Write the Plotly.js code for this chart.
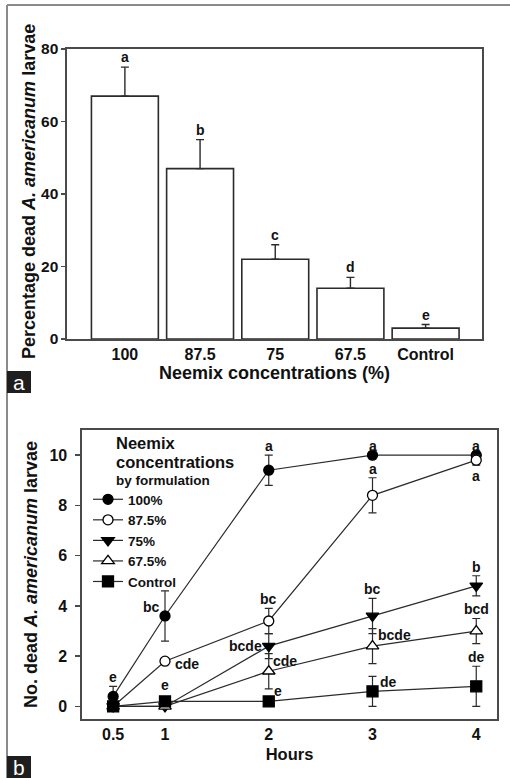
<!DOCTYPE html>
<html>
<head>
<meta charset="utf-8">
<script src="https://cdn.plot.ly/plotly-3.0.1.min.js"></script>
<style>html,body{margin:0;padding:0;background:#fff;overflow:hidden;}#chart{width:510px;height:778px;}</style>
</head>
<body>
<div id="chart"></div>
<script>
// ---------- Panel a data ----------
const concentrations = ['100', '87.5', '75', '67.5', 'Control'];
const pctDead = [67, 47, 22, 14, 3];
const pctErr = [8, 8, 4, 3, 1];
const pctLetters = ['a', 'b', 'c', 'd', 'e'];
const pctTicks = [0, 20, 40, 60, 80];

// ---------- Panel b data ----------
const hours = [0.5, 1, 2, 3, 4];
const hourLabels = ['0.5', '1', '2', '3', '4'];
const seriesNames = ['100%', '87.5%', '75%', '67.5%', 'Control'];
const dead100 = [0.4, 3.6, 9.4, 10, 10];
const err100 = [0.4, 1.0, 0.6, 0, 0];
const dead875 = [0, 1.8, 3.4, 8.4, 9.8];
const err875 = [0, 0.1, 0.5, 0.7, 0.2];
const dead75 = [0, 0, 2.4, 3.6, 4.8];
const err75 = [0, 0, 0.5, 0.7, 0.4];
const dead675 = [0, 0, 1.4, 2.4, 3.0];
const err675 = [0, 0, 0.7, 0.7, 0.5];
const deadCtrl = [0, 0.2, 0.2, 0.6, 0.8];
const errCtrl = [0, 0, 0, 0.6, 0.8];
const countTicks = [0, 2, 4, 6, 8, 10];
// significance letters: [series, hour index, text, placement, dx, dy]
const hourLetters = [
  [0, 0, 'e', 'above'],
  [0, 1, 'bc', 'left', -3, 9],
  [1, 1, 'cde', 'right', 8, -3],
  [4, 1, 'e', 'above', 0, 7],
  [0, 2, 'a', 'above'],
  [1, 2, 'bc', 'above'],
  [2, 2, 'bcde', 'left', -5, 0],
  [3, 2, 'cde', 'right', 2, 10],
  [4, 2, 'e', 'right', 3, 10],
  [0, 3, 'a', 'above'],
  [1, 3, 'a', 'above'],
  [2, 3, 'bc', 'above'],
  [3, 3, 'bcde', 'right', 3, 11],
  [4, 3, 'de', 'right', 5, 9],
  [0, 4, 'a', 'above'],
  [1, 4, 'a', 'below'],
  [2, 4, 'b', 'above'],
  [3, 4, 'bcd', 'above'],
  [4, 4, 'de', 'above']
];

const W = 510, H = 778;
const FONT = 'Liberation Sans, Arial, sans-serif';
const INK = '#2b2b2b';
const px = v => v / W;
const py = v => 1 - v / H;

const seriesVals = [dead100, dead875, dead75, dead675, deadCtrl];
const seriesErr = [err100, err875, err75, err675, errCtrl];
const symbols = ['circle', 'circle', 'triangle-down', 'triangle-up', 'square'];
const fills = ['black', 'white', 'black', 'white', 'black'];

const traces = [];
traces.push({
  type: 'bar', x: concentrations, y: pctDead, xaxis: 'x', yaxis: 'y',
  marker: {color: 'white', line: {color: INK, width: 1.6}},
  error_y: {type: 'data', symmetric: false, array: pctErr, arrayminus: pctErr.map(() => 0),
            color: INK, thickness: 1.4, width: 4},
  showlegend: false, hoverinfo: 'skip'
});
seriesNames.forEach((name, i) => {
  traces.push({
    type: 'scatter', mode: 'lines+markers', name: name,
    x: hours, y: seriesVals[i], xaxis: 'x2', yaxis: 'y2',
    line: {color: INK, width: 1.2},
    marker: {symbol: symbols[i], size: i >= 2 ? 11 : 10, color: fills[i], line: {color: 'black', width: 1.3}},
    error_y: {type: 'data', array: seriesErr[i], visible: true, color: INK, thickness: 1.2, width: 4}
  });
});

const letterFont = {family: FONT, size: 14, weight: 'bold', color: '#111'};
const annotations = [];
concentrations.forEach((c, i) => {
  annotations.push({xref: 'x', yref: 'y', x: i, y: pctDead[i] + pctErr[i], text: pctLetters[i],
    showarrow: false, xanchor: 'center', yanchor: 'bottom', yshift: 0, font: letterFont});
});
hourLetters.forEach(([s, h, t, pos, dx, dy]) => {
  const v = seriesVals[s][h], e = seriesErr[s][h];
  const a = {xref: 'x2', yref: 'y2', x: hours[h], text: t, showarrow: false, xanchor: 'center', font: letterFont};
  if (pos === 'above') { a.y = v + e; a.yanchor = 'bottom'; a.yshift = (dy || 0) - 1; }
  else if (pos === 'below') { a.y = v - e; a.yanchor = 'top'; a.yshift = -1; }
  else { a.y = v; a.yanchor = 'middle'; a.xanchor = pos === 'left' ? 'right' : 'left'; a.xshift = dx; a.yshift = dy; }
  annotations.push(a);
});
// legend heading
const headFont = {family: FONT, size: 16.5, weight: 'bold', color: '#111'};
annotations.push({xref: 'paper', yref: 'paper', x: px(114), y: py(443), xanchor: 'left', yanchor: 'middle',
  showarrow: false, text: 'Neemix', font: headFont});
annotations.push({xref: 'paper', yref: 'paper', x: px(114), y: py(462), xanchor: 'left', yanchor: 'middle',
  showarrow: false, text: 'concentrations', font: headFont});
annotations.push({xref: 'paper', yref: 'paper', x: px(114), y: py(480), xanchor: 'left', yanchor: 'middle',
  showarrow: false, text: 'by formulation', font: {family: FONT, size: 13.5, weight: 'bold', color: '#111'}});
// y-axis titles
annotations.push({xref: 'paper', yref: 'paper', x: px(29), y: py(192), xanchor: 'center', yanchor: 'middle',
  textangle: -90, showarrow: false,
  text: 'Percentage dead <i>A. americanum</i> larvae', font: {family: FONT, size: 18, weight: 'bold', color: '#111'}});
annotations.push({xref: 'paper', yref: 'paper', x: px(31), y: py(575), xanchor: 'center', yanchor: 'middle',
  textangle: -90, showarrow: false,
  text: 'No. dead <i>A. americanum</i> larvae', font: {family: FONT, size: 18, weight: 'bold', color: '#111'}});
// panel tags
annotations.push({xref: 'paper', yref: 'paper', x: px(19), y: py(382), xanchor: 'center', yanchor: 'middle',
  showarrow: false, text: 'a', font: {family: FONT, size: 21, color: 'white'}});
annotations.push({xref: 'paper', yref: 'paper', x: px(19), y: py(767), xanchor: 'center', yanchor: 'middle',
  showarrow: false, text: 'b', font: {family: FONT, size: 21, color: 'white'}});

const shapes = [
  {type: 'line', xref: 'paper', yref: 'paper', x0: px(7), x1: px(7), y0: 0, y1: py(5), line: {color: '#8a8a8a', width: 2}},
  {type: 'line', xref: 'paper', yref: 'paper', x0: px(7), x1: 1, y0: py(5), y1: py(5), line: {color: '#8a8a8a', width: 2}},
  {type: 'rect', xref: 'paper', yref: 'paper', x0: px(7), x1: px(31), y0: py(393), y1: py(371), fillcolor: '#1e1e1e', line: {width: 0}},
  {type: 'rect', xref: 'paper', yref: 'paper', x0: px(7), x1: px(31), y0: 0, y1: py(756), fillcolor: '#1e1e1e', line: {width: 0}}
];

const tickFont = {family: FONT, size: 16, weight: 'bold', color: '#111'};
const titleFont = {family: FONT, size: 18, weight: 'bold', color: '#111'};
const axisLine = {showline: true, mirror: true, linecolor: '#4a4a4a', linewidth: 1.6, showgrid: false, zeroline: false};

const layout = {
  width: W, height: H, margin: {l: 0, r: 0, t: 0, b: 0},
  paper_bgcolor: 'white', plot_bgcolor: 'white',
  font: {family: FONT, color: '#111'},
  bargap: 0.11,
  xaxis: Object.assign({domain: [px(67), px(482)], anchor: 'y', type: 'category', range: [-0.77, 4.75],
    ticks: '', tickfont: tickFont, ticklabelstandoff: 0,
    title: {text: 'Neemix concentrations (%)', font: titleFont, standoff: 3}}, axisLine),
  yaxis: Object.assign({domain: [py(339), py(49)], anchor: 'x', range: [0, 80], tickvals: pctTicks,
    ticks: 'outside', ticklen: 4, tickwidth: 1.4, tickcolor: '#4a4a4a',
    tickfont: {family: FONT, size: 15.5, weight: 'bold', color: '#111'}, ticklabelstandoff: 0}, axisLine),
  xaxis2: Object.assign({domain: [px(82), px(497)], anchor: 'y2', range: [0.2, 4.2], tickvals: hours, ticktext: hourLabels,
    ticks: '', tickfont: tickFont, ticklabelstandoff: 0,
    title: {text: 'Hours', font: {family: FONT, size: 16.5, weight: 'bold', color: '#111'}, standoff: 6}}, axisLine),
  yaxis2: Object.assign({domain: [py(719), py(430)], anchor: 'x2', range: [-0.5, 11], tickvals: countTicks,
    ticks: 'outside', ticklen: 5, tickwidth: 1.4, tickcolor: '#4a4a4a', tickfont: tickFont, ticklabelstandoff: 5}, axisLine),
  showlegend: true,
  legend: {x: px(88), y: py(484), xanchor: 'left', yanchor: 'top', bgcolor: 'rgba(0,0,0,0)',
    font: {family: FONT, size: 13.5, weight: 'bold', color: '#111'}, tracegroupgap: 0, itemwidth: 30},
  annotations: annotations,
  shapes: shapes
};

Plotly.newPlot('chart', traces, layout, {displayModeBar: false, staticPlot: true});
</script>
</body>
</html>
